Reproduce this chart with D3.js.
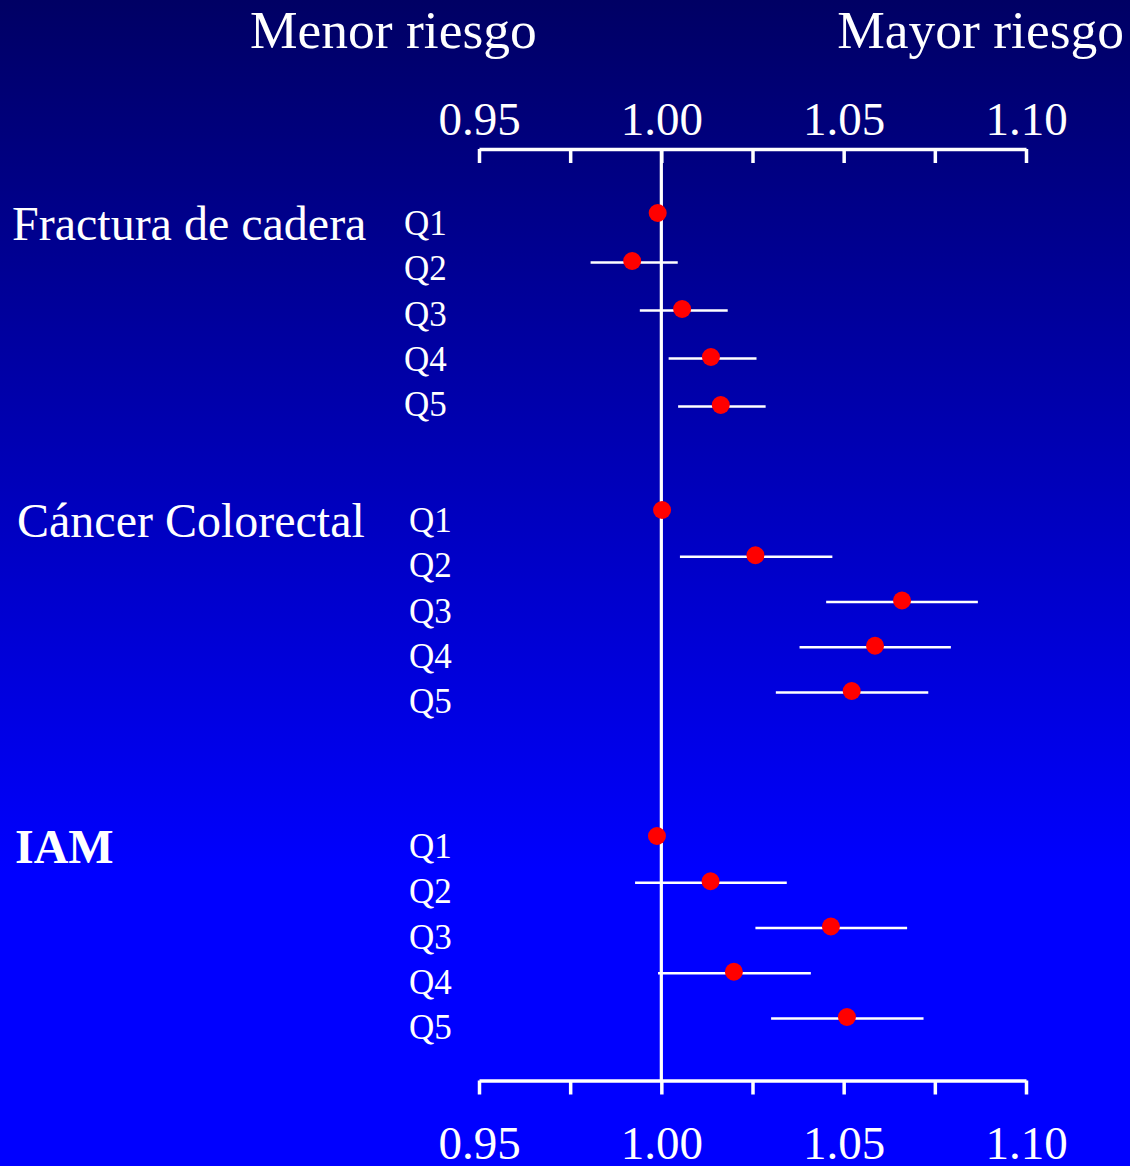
<html>
<head>
<meta charset="utf-8">
<script src="https://d3js.org/d3.v7.min.js"></script>
<style>
  body { margin: 0; background: #0000ff; }
  svg text { font-family: "Liberation Serif", "Times New Roman", serif; fill: white; }
  .axis path, .axis line { stroke: white; }
</style>
</head>
<body>
<svg width="1130" height="1166"></svg>
<script>
// data
var groups = ["Fractura de cadera", "Cáncer Colorectal", "IAM"];
var quintiles = ["Q1", "Q2", "Q3", "Q4", "Q5"];

var fracturaRR = [0.9990, 0.9920, 1.0057, 1.0136, 1.0163];
var fracturaLo = [null, 0.9806, 0.9941, 1.0020, 1.0046];
var fracturaHi = [null, 1.0045, 1.0182, 1.0261, 1.0286];

var colorectalRR = [1.0002, 1.0258, 1.0660, 1.0586, 1.0522];
var colorectalLo = [null, 1.0051, 1.0452, 1.0379, 1.0314];
var colorectalHi = [null, 1.0469, 1.0868, 1.0794, 1.0732];

var iamRR = [0.9988, 1.0135, 1.0465, 1.0199, 1.0509];
var iamLo = [null, 0.9928, 1.0258, 0.9991, 1.0301];
var iamHi = [null, 1.0344, 1.0674, 1.0410, 1.0719];

var majorTicks = [0.95, 1.00, 1.05, 1.10];
var allTicks = [0.95, 0.975, 1.00, 1.025, 1.05, 1.075, 1.10];
var sideLabels = ["Menor riesgo", "Mayor riesgo"];

var series = [
  {rr: fracturaRR, lo: fracturaLo, hi: fracturaHi},
  {rr: colorectalRR, lo: colorectalLo, hi: colorectalHi},
  {rr: iamRR, lo: iamLo, hi: iamHi}
];

// layout
var topAxisY = 149, bottomAxisY = 1080.5;
var groupLayout = [
  {y0: 213, step: 48, qy0: 235, qx: 404, lx: 12, bold: false},
  {y0: 510, step: 45.25, qy0: 532, qx: 409, lx: 17, bold: false},
  {y0: 836, step: 45.25, qy0: 858, qx: 409, lx: 15, bold: true}
];
var qStep = 45.25;

var svg = d3.select("svg");

var grad = svg.append("defs").append("linearGradient")
  .attr("id", "bg").attr("x1", 0).attr("y1", 0).attr("x2", 0).attr("y2", 1);
grad.append("stop").attr("offset", "0%").attr("stop-color", "#000064");
grad.append("stop").attr("offset", "75%").attr("stop-color", "#0000ff");
grad.append("stop").attr("offset", "100%").attr("stop-color", "#0000ff");

svg.append("rect").attr("width", 1130).attr("height", 1166).attr("fill", "url(#bg)");

var x = d3.scaleLinear().domain([0.95, 1.10]).range([479, 1026]);

function fmt(d) {
  return majorTicks.some(function(m) { return Math.abs(m - d) < 1e-9; }) ? d3.format(".2f")(d) : "";
}

function drawAxis(yPos, labelY) {
  var g = svg.append("g")
    .attr("class", "axis")
    .attr("transform", "translate(0," + yPos + ")")
    .call(d3.axisBottom(x).tickValues(allTicks).tickSize(14).tickSizeOuter(0).tickFormat(fmt));
  g.select(".domain").attr("stroke-width", 3.5);
  g.selectAll(".tick line").attr("stroke-width", 3.5);
  g.selectAll(".tick text")
    .attr("y", labelY).attr("dy", 0)
    .style("font-size", "47px")
    .attr("fill", "white");
}
drawAxis(topAxisY, -14);
drawAxis(bottomAxisY, 78);

// reference line at 1.00
svg.append("line")
  .attr("x1", x(1)).attr("x2", x(1))
  .attr("y1", topAxisY).attr("y2", bottomAxisY)
  .attr("stroke", "white").attr("stroke-width", 3.2);

// side titles
svg.append("text").attr("x", 250).attr("y", 48).style("font-size", "53.5px").text(sideLabels[0]);
svg.append("text").attr("x", 1124).attr("y", 48).attr("text-anchor", "end").style("font-size", "53.5px").text(sideLabels[1]);

groups.forEach(function(name, gi) {
  var L = groupLayout[gi];
  var s = series[gi];
  var y = d3.scaleLinear().domain([0, 4]).range([L.y0, L.y0 + 4 * L.step]);
  var yq = d3.scaleLinear().domain([0, 4]).range([L.qy0, L.qy0 + 4 * qStep]);
  var rows = quintiles.map(function(q, i) {
    return {q: q, i: i, rr: s.rr[i], lo: s.lo[i], hi: s.hi[i]};
  });
  var g = svg.append("g");

  g.append("text")
    .attr("x", L.lx).attr("y", L.qy0 + 5)
    .style("font-size", "48px")
    .style("font-weight", L.bold ? "bold" : "normal")
    .text(name);

  g.selectAll(".qlab").data(rows).enter().append("text")
    .attr("class", "qlab")
    .attr("x", L.qx).attr("y", function(d) { return yq(d.i); })
    .style("font-size", "35px")
    .text(function(d) { return d.q; });

  g.selectAll(".ci").data(rows.filter(function(d) { return d.lo != null; })).enter().append("line")
    .attr("class", "ci")
    .attr("x1", function(d) { return x(d.lo); })
    .attr("x2", function(d) { return x(d.hi); })
    .attr("y1", function(d) { return y(d.i) + 1.5; })
    .attr("y2", function(d) { return y(d.i) + 1.5; })
    .attr("stroke", "white").attr("stroke-width", 2.5);

  g.selectAll(".pt").data(rows).enter().append("circle")
    .attr("class", "pt")
    .attr("cx", function(d) { return x(d.rr); })
    .attr("cy", function(d) { return y(d.i); })
    .attr("r", 9)
    .attr("fill", "#ff0000");
});
</script>
</body>
</html>
